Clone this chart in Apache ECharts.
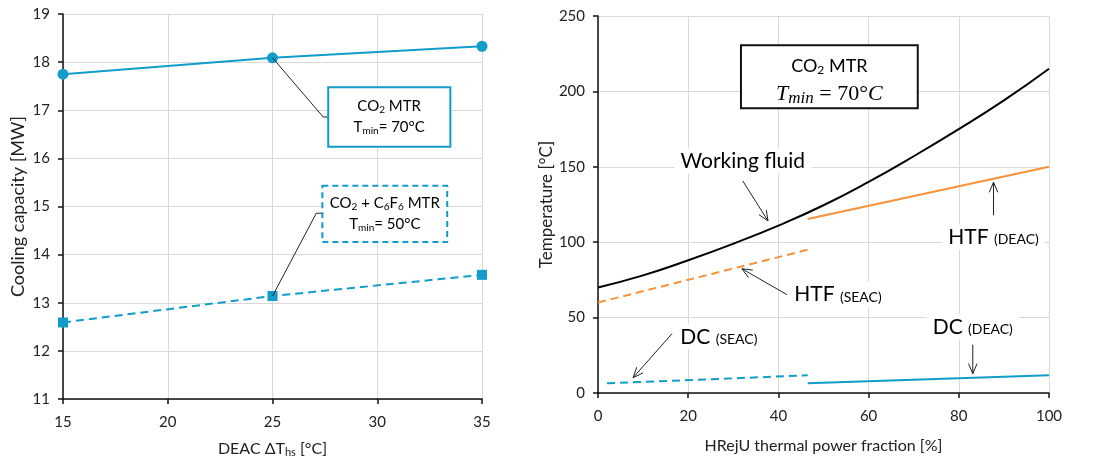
<!DOCTYPE html>
<html>
<head>
<meta charset="utf-8">
<script src="https://cdn.jsdelivr.net/npm/echarts@6/dist/echarts.min.js"></script>
<style>
html,body{margin:0;padding:0;background:#fff;}
#chart{width:1111px;height:460px;}
</style>
</head>
<body>
<div id="chart"></div>
<script>
// left panel: cooling capacity vs DEAC dT_hs
var deltaT = [15, 25, 35];
var co2Mtr = [17.75, 18.09, 18.33];
var co2C6F6Mtr = [12.59, 13.14, 13.58];

// right panel: temperature vs HRejU thermal power fraction
var fraction = [0, 10, 20, 30, 40, 50, 60, 70, 80, 90, 100];
var workingFluid = [70, 78, 88, 99, 111, 124.5, 140, 157, 175, 194, 215];
var htfSeacX = [0, 46.5];
var htfSeac = [60, 95];
var htfDeacX = [46.5, 100];
var htfDeac = [115.4, 150];
var dcSeacX = [2, 46.5];
var dcSeac = [6.4, 11.7];
var dcDeacX = [46.5, 100];
var dcDeac = [6.4, 11.7];

var FONT = 'Lato';
var BLUE = '#129CCA';
var ORANGE = '#F7923A';

function pairs(xs, ys) {
	return xs.map(function (x, i) { return [x, ys[i]]; });
}

var subRich = {
	a: { fontFamily: FONT, fontSize: 16, color: '#222' },
	s: { fontFamily: FONT, fontSize: 11, color: '#222', padding: [8, 0, 0, 0] }
};

function axisStyle(isX) {
	return {
		axisLine: { onZero: false, lineStyle: { color: '#111', width: 1.5 } },
		axisTick: { show: true, inside: false, length: 5, lineStyle: { color: '#111', width: 1.5 } },
		axisLabel: { fontFamily: FONT, fontSize: 15, color: '#222', margin: isX ? 16 : 13 },
		splitLine: { show: true, lineStyle: { color: '#d9d9d9', width: 1 } }
	};
}

var chart = echarts.init(document.getElementById('chart'));

var option = {
	animation: false,
	backgroundColor: '#fff',
	grid: [
		{ left: 63, top: 14, width: 419, height: 385, outerBoundsMode: 'none' },
		{ left: 598, top: 16, width: 451, height: 377, outerBoundsMode: 'none' }
	],
	xAxis: [
		Object.assign({
			type: 'value', gridIndex: 0, min: 15, max: 35, interval: 5,
			name: '{a|DEAC ΔT}{s|hs}{a| [°C]}', nameLocation: 'middle', nameGap: 40,
			nameTextStyle: { rich: subRich }
		}, axisStyle(true)),
		Object.assign({
			type: 'value', gridIndex: 1, min: 0, max: 100, interval: 20,
			name: 'HRejU thermal power fraction [%]', nameLocation: 'middle', nameGap: 45,
			nameTextStyle: { fontFamily: FONT, fontSize: 16, color: '#222' }
		}, axisStyle(true))
	],
	yAxis: [
		Object.assign({
			type: 'value', gridIndex: 0, min: 11, max: 19, interval: 1,
			name: 'Cooling capacity [MW]', nameLocation: 'middle', nameGap: 36,
			nameTextStyle: { fontFamily: FONT, fontSize: 18, color: '#222' }
		}, axisStyle(false)),
		Object.assign({
			type: 'value', gridIndex: 1, min: 0, max: 250, interval: 50,
			name: 'Temperature [°C]', nameLocation: 'middle', nameGap: 43,
			nameTextStyle: { fontFamily: FONT, fontSize: 17, color: '#222' }
		}, axisStyle(false))
	],
	series: [
		{
			name: 'CO2 MTR', type: 'line', xAxisIndex: 0, yAxisIndex: 0,
			data: pairs(deltaT, co2Mtr),
			symbol: 'circle', symbolSize: 11,
			itemStyle: { color: BLUE },
			lineStyle: { color: BLUE, width: 2 }
		},
		{
			name: 'CO2 + C6F6 MTR', type: 'line', xAxisIndex: 0, yAxisIndex: 0,
			data: pairs(deltaT, co2C6F6Mtr),
			symbol: 'rect', symbolSize: 10,
			itemStyle: { color: BLUE },
			lineStyle: { color: BLUE, width: 2, type: [8, 5] }
		},
		{
			name: 'Working fluid', type: 'line', xAxisIndex: 1, yAxisIndex: 1,
			data: pairs(fraction, workingFluid), smooth: true, showSymbol: false,
			lineStyle: { color: '#000', width: 2 }
		},
		{
			name: 'HTF (SEAC)', type: 'line', xAxisIndex: 1, yAxisIndex: 1,
			data: pairs(htfSeacX, htfSeac), showSymbol: false,
			lineStyle: { color: ORANGE, width: 2, type: [8, 5] }
		},
		{
			name: 'HTF (DEAC)', type: 'line', xAxisIndex: 1, yAxisIndex: 1,
			data: pairs(htfDeacX, htfDeac), showSymbol: false,
			lineStyle: { color: ORANGE, width: 2 }
		},
		{
			name: 'DC (SEAC)', type: 'line', xAxisIndex: 1, yAxisIndex: 1,
			data: pairs(dcSeacX, dcSeac), showSymbol: false,
			lineStyle: { color: BLUE, width: 2, type: [8, 5] }
		},
		{
			name: 'DC (DEAC)', type: 'line', xAxisIndex: 1, yAxisIndex: 1,
			data: pairs(dcDeacX, dcDeac), showSymbol: false,
			lineStyle: { color: BLUE, width: 2 }
		}
	]
};
chart.setOption(option);

// annotations, placed in data units of each grid
function px(g, p) { return chart.convertToPixel({ gridIndex: g }, p); }

function box(g, b, style) {
	var p0 = px(g, [b[0], b[1]]), p1 = px(g, [b[2], b[3]]);
	return {
		type: 'rect', z: 100,
		shape: { x: p0[0], y: p0[1], width: p1[0] - p0[0], height: p1[1] - p0[1] },
		style: Object.assign({ fill: '#fff' }, style)
	};
}

function leader(g, pts) {
	return {
		type: 'polyline', z: 100,
		shape: { points: pts.map(function (p) { return px(g, p); }) },
		style: { stroke: '#222', lineWidth: 1, fill: null }
	};
}

function arrow(g, from, to) {
	var a = px(g, from), b = px(g, to);
	var ang = Math.atan2(b[1] - a[1], b[0] - a[0]);
	var L = 11, w = 0.4;
	var h1 = [b[0] - L * Math.cos(ang - w), b[1] - L * Math.sin(ang - w)];
	var h2 = [b[0] - L * Math.cos(ang + w), b[1] - L * Math.sin(ang + w)];
	return [
		{ type: 'line', z: 100, shape: { x1: a[0], y1: a[1], x2: b[0], y2: b[1] }, style: { stroke: '#222', lineWidth: 1 } },
		{ type: 'polyline', z: 100, shape: { points: [h1, b, h2] }, style: { stroke: '#222', lineWidth: 1, fill: null } }
	];
}

function label(g, at, text, rich, bg) {
	var p = px(g, at);
	return {
		type: 'text', z: 101, x: p[0], y: p[1],
		style: {
			text: text, rich: rich, align: 'center', verticalAlign: 'middle',
			backgroundColor: bg ? '#fff' : null, padding: bg ? [2, 6] : 0
		}
	};
}

var boxRich = {
	a: { fontFamily: FONT, fontSize: 15, color: '#222', lineHeight: 21 },
	s: { fontFamily: FONT, fontSize: 10, color: '#222', padding: [7, 0, 0, 0] }
};
var bigRich = {
	a: { fontFamily: FONT, fontSize: 21, color: '#111' },
	b: { fontFamily: FONT, fontSize: 14, color: '#111', padding: [6, 0, 0, 0] }
};
var mathRich = {
	a: { fontFamily: FONT, fontSize: 18, color: '#111', lineHeight: 28 },
	s: { fontFamily: FONT, fontSize: 12, color: '#111', padding: [8, 0, 0, 0] },
	i: { fontFamily: 'Liberation Serif', fontStyle: 'italic', fontSize: 22, color: '#111', lineHeight: 28 },
	j: { fontFamily: 'Liberation Serif', fontStyle: 'italic', fontSize: 17, color: '#111', padding: [9, 0, 0, 0] },
	n: { fontFamily: 'Liberation Serif', fontSize: 22, color: '#111', lineHeight: 28 }
};

var graphics = [];
graphics.push(leader(0, [[25, 18.09], [27.42, 16.86], [27.66, 16.86]]));
graphics.push(leader(0, [[25, 13.14], [27.09, 14.86], [27.38, 14.86]]));
graphics.push(box(0, [27.66, 17.48, 33.49, 16.24], { stroke: BLUE, lineWidth: 2 }));
graphics.push(box(0, [27.38, 15.43, 33.34, 14.26], { stroke: BLUE, lineWidth: 2, lineDash: [6, 4] }));
graphics.push(label(0, [30.57, 16.86], '{a|CO}{s|2}{a| MTR}\n{a|T}{s|min}{a|= 70°C}', boxRich));
graphics.push(label(0, [30.36, 14.85], '{a|CO}{s|2}{a| + C}{s|6}{a|F}{s|6}{a| MTR}\n{a|T}{s|min}{a|= 50°C}', boxRich));

graphics.push(box(1, [31.7, 230.6, 70.9, 188.9], { stroke: '#111', lineWidth: 2 }));
graphics.push(label(1, [51.3, 207.5], '{a|CO}{s|2}{a| MTR}\n{i|T}{j|min}{n| = 70°}{i|C}', mathRich));
graphics.push(label(1, [32.1, 153.9], '{a|Working fluid}', bigRich, true));
graphics.push(label(1, [87.7, 103.5], '{a|HTF }{b|(DEAC)}', bigRich, true));
graphics.push(label(1, [53.2, 65.2], '{a|HTF }{b|(SEAC)}', bigRich, true));
graphics.push(label(1, [26.8, 37.3], '{a|DC }{b|(SEAC)}', bigRich, true));
graphics.push(label(1, [83.1, 43.9], '{a|DC }{b|(DEAC)}', bigRich, true));
graphics = graphics.concat(arrow(1, [32.1, 140.6], [37.7, 114.1]));
graphics = graphics.concat(arrow(1, [87.7, 117.9], [87.7, 139.8]));
graphics = graphics.concat(arrow(1, [41.9, 65.2], [31.9, 82.4]));
graphics = graphics.concat(arrow(1, [16.4, 39.3], [7.8, 10.2]));
graphics = graphics.concat(arrow(1, [83.1, 32], [83.1, 12.8]));

chart.setOption({ graphic: graphics });
</script>
</body>
</html>
